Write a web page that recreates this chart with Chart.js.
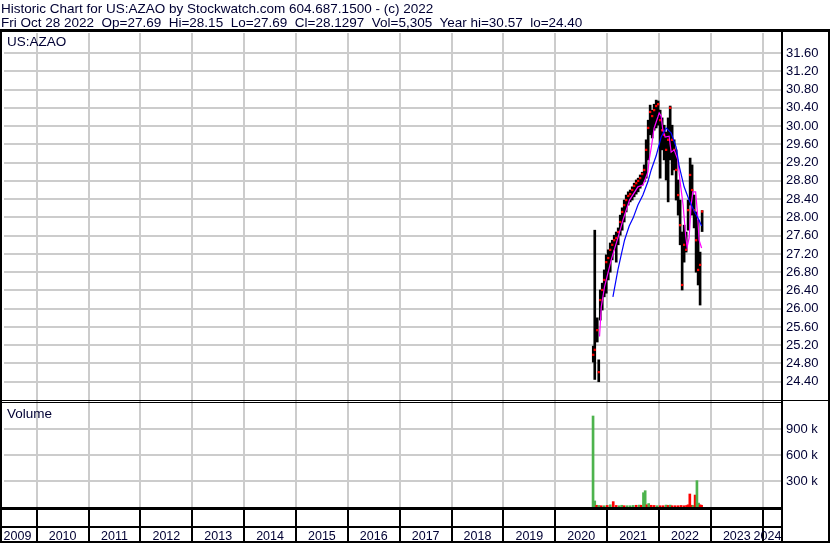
<!DOCTYPE html>
<html>
<head>
<meta charset="utf-8">
<script src="https://cdn.jsdelivr.net/npm/chart.js@4.4.0/dist/chart.umd.min.js"></script>
<style>
  body { margin: 0; background: #fff; }
  #wrap { position: relative; width: 830px; height: 543px; font-family: "Liberation Sans", Arial, sans-serif; color: #000033; }
  #wrap canvas { position: absolute; left: 0; top: 0; }
  .txt { position: absolute; white-space: pre; font-size: 13.5px; line-height: 14px; }
</style>
</head>
<body>
<div id="wrap">
  <canvas id="stockChart" width="830" height="543"></canvas>
  <div class="txt" style="left:1px; top:2px">Historic Chart for US:AZAO by Stockwatch.com 604.687.1500 - (c) 2022</div>
  <div class="txt" style="left:1px; top:16px">Fri Oct 28 2022  Op=27.69  Hi=28.15  Lo=27.69  Cl=28.1297  Vol=5,305  Year hi=30.57  lo=24.40</div>
  <div class="txt" style="left:7px; top:35px">US:AZAO</div>
  <div class="txt" style="left:7px; top:407px">Volume</div>
</div>
<script>
const priceDates = [2020.732, 2020.761, 2020.809, 2020.838, 2020.867, 2020.905, 2020.944, 2020.982,
  2021.021, 2021.059, 2021.098, 2021.136, 2021.175, 2021.213, 2021.252, 2021.290, 2021.329, 2021.367,
  2021.406, 2021.444, 2021.483, 2021.521, 2021.560, 2021.598, 2021.637, 2021.675, 2021.714, 2021.752,
  2021.791, 2021.829, 2021.868, 2021.906, 2021.945, 2021.983, 2022.022, 2022.060, 2022.099, 2022.137,
  2022.176, 2022.215, 2022.253, 2022.292, 2022.330, 2022.369, 2022.407, 2022.446, 2022.484, 2022.523,
  2022.561, 2022.600, 2022.638, 2022.677, 2022.715, 2022.754, 2022.792, 2022.831];
const priceHigh = [25.18, 27.72, 25.80, 24.88, 26.41, 26.56, 26.85, 27.18,
  27.29, 27.44, 27.50, 27.61, 27.68, 27.77, 28.05, 28.21, 28.38, 28.49,
  28.56, 28.60, 28.67, 28.75, 28.82, 28.86, 28.93, 28.99, 29.15, 29.70,
  30.13, 30.46, 30.35, 30.48, 30.57, 30.55, 30.35, 30.18, 30.02, 29.87,
  30.18, 30.44, 30.02, 29.70, 29.48, 28.82, 28.38, 27.68, 27.83, 27.68,
  28.38, 29.30, 29.15, 28.49, 28.12, 27.94, 27.24, 28.15];
const priceLow = [24.83, 24.45, 25.27, 24.40, 25.75, 25.97, 26.26, 26.34,
  26.63, 26.80, 27.07, 27.29, 27.02, 27.40, 27.61, 27.72, 27.90, 28.12,
  28.27, 28.34, 28.38, 28.45, 28.51, 28.56, 28.64, 28.71, 28.78, 28.86,
  29.26, 29.81, 29.74, 29.91, 29.96, 30.02, 28.86, 29.48, 29.26, 28.82,
  28.34, 29.26, 28.93, 29.04, 28.38, 28.05, 27.40, 26.41, 27.02, 27.24,
  27.72, 28.27, 28.05, 27.77, 26.80, 26.52, 26.08, 27.69];
const priceClose = [24.99, 25.10, 25.53, 24.61, 26.19, 26.41, 26.63, 27.02,
  27.11, 27.29, 27.40, 27.50, 27.55, 27.68, 27.90, 28.12, 28.27, 28.38,
  28.47, 28.51, 28.60, 28.69, 28.75, 28.80, 28.86, 28.95, 29.04, 29.48,
  29.96, 30.31, 30.22, 30.35, 30.44, 30.48, 30.13, 29.91, 29.81, 29.48,
  29.70, 30.40, 29.70, 29.48, 29.04, 28.49, 27.83, 26.52, 27.40, 27.29,
  28.16, 28.93, 28.60, 28.16, 27.50, 26.85, 26.96, 28.13];

// short moving average (magenta)
const maShortDates = [2020.853, 2020.886, 2020.949, 2021.078, 2021.136, 2021.207, 2021.304, 2021.431,
  2021.593, 2021.689, 2021.752, 2021.785, 2021.810, 2021.849, 2021.906, 2021.978, 2022.003, 2022.041,
  2022.074, 2022.118, 2022.195, 2022.234, 2022.292, 2022.363, 2022.407, 2022.465, 2022.513, 2022.542,
  2022.580, 2022.619, 2022.652, 2022.706, 2022.744, 2022.773, 2022.821];
const maShort = [25.39, 26.04, 26.48, 27.07, 27.29, 27.55, 27.94, 28.38,
  28.67, 28.71, 28.89, 28.99, 29.26, 29.52, 29.96, 30.20, 30.29, 30.22,
  29.91, 29.76, 29.78, 29.43, 29.48, 29.26, 28.78, 28.27, 27.61, 27.35,
  27.55, 28.27, 28.56, 28.56, 28.05, 27.50, 27.33];

// long moving average (blue)
const maLongDates = [2021.111, 2021.207, 2021.271, 2021.335, 2021.425, 2021.502, 2021.593, 2021.689,
  2021.785, 2021.849, 2021.945, 2022.041, 2022.137, 2022.234, 2022.330, 2022.388, 2022.484, 2022.580,
  2022.677, 2022.773, 2022.821];
const maLong = [26.26, 26.85, 27.18, 27.50, 27.81, 27.99, 28.27, 28.49,
  28.78, 29.04, 29.35, 29.76, 29.96, 29.85, 29.54, 29.13, 28.67, 28.38,
  28.14, 27.94, 27.81];

const volDates = [2020.728, 2020.761, 2020.799, 2020.838, 2020.886, 2020.944, 2021.001, 2021.059,
  2021.117, 2021.175, 2021.232, 2021.281, 2021.329, 2021.386, 2021.444, 2021.502, 2021.560, 2021.618,
  2021.656, 2021.700, 2021.733, 2021.768, 2021.801, 2021.849, 2021.906, 2021.964, 2022.022, 2022.080,
  2022.137, 2022.176, 2022.215, 2022.253, 2022.311, 2022.369, 2022.426, 2022.484, 2022.532, 2022.561,
  2022.594, 2022.629, 2022.657, 2022.696, 2022.731, 2022.763, 2022.792, 2022.821];
const volValues = [1050000, 70000, 20000, 18000, 15000, 15000, 18000, 25000,
  62000, 18000, 15000, 20000, 15000, 15000, 15000, 18000, 20000, 22000,
  20000, 165000, 188000, 25000, 40000, 20000, 18000, 15000, 15000, 15000,
  22000, 18000, 22000, 15000, 15000, 15000, 18000, 15000, 18000, 25000,
  150000, 20000, 18000, 138000, 304000, 45000, 25000, 20000];
const volUp = [1, 1, 0, 1, 0, 1, 0, 1, 0, 0, 1, 1, 0, 1, 1, 1, 0, 1, 0, 1, 1, 0, 1,
  0, 0, 1, 0, 0, 1, 0, 1, 0, 0, 0, 0, 0, 0, 0, 0, 0, 1, 0, 1, 1, 0, 0];

const priceTicks = [24.40, 24.80, 25.20, 25.60, 26.00, 26.40, 26.80, 27.20, 27.60, 28.00,
  28.40, 28.80, 29.20, 29.60, 30.00, 30.40, 30.80, 31.20, 31.60];
const volTicks = [300000, 600000, 900000];
const yearBounds = [2010, 2011, 2012, 2013, 2014, 2015, 2016, 2017, 2018, 2019, 2020, 2021, 2022, 2023, 2024];
const yearLabels = [2009, 2010, 2011, 2012, 2013, 2014, 2015, 2016, 2017, 2018, 2019, 2020, 2021, 2022, 2023, 2024];

const TEXT = '#000033';
const GRID = '#cccccc';
Chart.defaults.font.family = '"Liberation Sans", Arial, sans-serif';
Chart.defaults.color = TEXT;

const frame = {
  id: 'frame',
  afterDraw(chart) {
    const c = chart.ctx, a = chart.chartArea;
    const mid = chart.scales.v.top;
    c.save();
    c.fillStyle = '#000';
    c.fillRect(0, 29, 830, 3);
    c.fillRect(0, 29, 2, 514);
    c.fillRect(a.right, 29, 2, 514);
    c.fillRect(828, 29, 2, 514);
    c.fillRect(0, 541, 830, 2);
    c.fillRect(0, mid, a.right, 1);
    c.fillRect(0, mid + 2, a.right, 1);
    c.fillRect(a.right, mid, 830 - a.right, 1);
    c.fillRect(0, a.bottom, a.right, 3);
    c.fillRect(0, a.bottom + 19, a.right, 2);
    c.restore();
  }
};

new Chart(document.getElementById('stockChart'), {
  type: 'bar',
  data: {
    datasets: [
      {
        type: 'line', label: 'MA long', yAxisID: 'y',
        data: maLongDates.map((d, i) => ({ x: d, y: maLong[i] })),
        borderColor: '#0000ff', borderWidth: 1.2, pointRadius: 0, tension: 0
      },
      {
        type: 'line', label: 'MA short', yAxisID: 'y',
        data: maShortDates.map((d, i) => ({ x: d, y: maShort[i] })),
        borderColor: '#ff00ff', borderWidth: 1.2, pointRadius: 0, tension: 0
      },
      {
        type: 'line', label: 'Close', yAxisID: 'y', showLine: false,
        data: priceDates.map((d, i) => ({ x: d, y: priceClose[i] })),
        pointStyle: 'rect', pointRadius: 1.6, pointBorderWidth: 0,
        pointBackgroundColor: '#ff0000', borderColor: '#ff0000'
      },
      {
        label: 'Range', yAxisID: 'y', grouped: false,
        data: priceDates.map((d, i) => ({ x: d, y: [priceLow[i], priceHigh[i]] })),
        backgroundColor: '#000000', barThickness: 2, borderWidth: 0
      },
      {
        label: 'Volume', yAxisID: 'v', grouped: false,
        data: volDates.map((d, i) => ({ x: d, y: volValues[i] })),
        backgroundColor: volUp.map(u => u ? '#4db34d' : '#ff0000'),
        barThickness: 2, borderWidth: 0
      }
    ]
  },
  options: {
    responsive: false,
    animation: false,
    events: [],
    layout: { padding: { top: 33, left: 2, right: 0, bottom: 0 } },
    plugins: { legend: { display: false }, tooltip: { enabled: false } },
    scales: {
      x: {
        type: 'linear', position: 'bottom', min: 2009.37, max: 2024.352, offset: false,
        afterBuildTicks: s => {
          const t = yearBounds.map(y => ({ value: y, edge: true }));
          yearLabels.forEach(y => {
            const v = Math.min(Math.max(y + 0.5, s.min + 0.26), s.max - 0.26);
            t.push({ value: v, text: String(y) });
          });
          t.sort((p, q) => p.value - q.value);
          s.ticks = t;
        },
        afterFit: s => { s.height = 36; s.paddingLeft = 0; s.paddingRight = 0; },
        ticks: {
          autoSkip: false, maxRotation: 0, padding: -12,
          font: { size: 12.5 }, color: TEXT,
          callback: (v, i, ticks) => ticks[i].text || ''
        },
        grid: {
          offset: false,
          color: c => (c.tick && c.tick.edge) ? GRID : 'rgba(0,0,0,0)',
          tickColor: c => (c.tick && c.tick.edge) ? '#000' : 'rgba(0,0,0,0)',
          lineWidth: 2, tickWidth: 2, tickLength: 34
        },
        border: { display: false }
      },
      y: {
        type: 'linear', position: 'right', stack: 'panels', stackWeight: 367,
        min: 24, max: 32.04,
        afterBuildTicks: s => { s.ticks = priceTicks.map(v => ({ value: v })); },
        afterFit: s => { s.width = 49; },
        ticks: { autoSkip: false, padding: 5, font: { size: 13 }, color: TEXT, callback: v => v.toFixed(2) },
        grid: { color: GRID, lineWidth: 2, drawTicks: false },
        border: { display: false }
      },
      v: {
        type: 'linear', position: 'right', stack: 'panels', stackWeight: 107,
        min: 0, max: 1234600,
        afterBuildTicks: s => { s.ticks = volTicks.map(v => ({ value: v })); },
        afterFit: s => { s.width = 49; },
        ticks: { autoSkip: false, padding: 5, font: { size: 13 }, color: TEXT, callback: v => (v / 1000) + ' k' },
        grid: { color: GRID, lineWidth: 2, drawTicks: false },
        border: { display: false }
      }
    }
  },
  plugins: [frame]
});
</script>
</body>
</html>
